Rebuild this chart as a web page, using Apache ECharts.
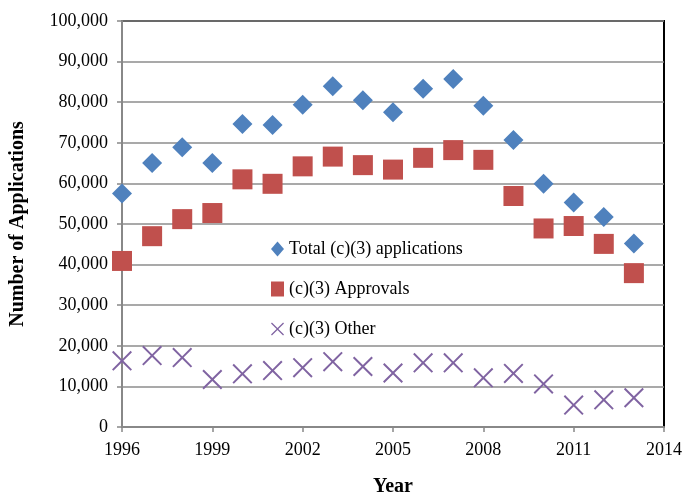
<!DOCTYPE html>
<html>
<head>
<meta charset="utf-8">
<script src="https://cdn.jsdelivr.net/npm/echarts@6/dist/echarts.min.js"></script>
<style>
  html, body { margin: 0; padding: 0; background: #fff; }
  #chart { width: 683px; height: 497px; }
</style>
</head>
<body>
<div id="chart"></div>
<script>
// years on the x axis
const years = [1996, 1997, 1998, 1999, 2000, 2001, 2002, 2003, 2004, 2005, 2006, 2007, 2008, 2009, 2010, 2011, 2012, 2013]
const totalApps = [57500, 65000, 68900, 65000, 74600, 74400, 79400, 83900, 80500, 77500, 83300, 85700, 79100, 70700, 59900, 55300, 51700, 45200]
const approvals = [40900, 47000, 51200, 52700, 61000, 59900, 64200, 66600, 64500, 63400, 66300, 68200, 65800, 56900, 48900, 49500, 45100, 37900]
const other = [16300, 17600, 17100, 11700, 13100, 13900, 14600, 16100, 14900, 13300, 15800, 15800, 12100, 13200, 10600, 5400, 6700, 7200]

const seriesNames = ['Total (c)(3) applications', '(c)(3) Approvals', '(c)(3) Other']

const font = 'Liberation Serif'
// thin X drawn as a filled polygon
const crossPath = 'path://M0,7L7,0L50,43L93,0L100,7L57,50L100,93L93,100L50,57L7,100L0,93L43,50Z'

function pairs(vals) {
  return years.map((y, i) => [y, vals[i]])
}

const chart = echarts.init(document.getElementById('chart'))

const options = {
  animation: false,
  textStyle: { fontFamily: font },
  grid: {
    left: 122,
    right: 19,
    top: 21,
    bottom: 70,
    outerBoundsMode: 'none',
    containLabel: false,
    show: true,
    borderColor: '#000',
    borderWidth: 2
  },
  legend: {
    data: seriesNames,
    orient: 'vertical',
    left: 266,
    top: 235,
    itemGap: 22,
    itemWidth: 13,
    itemHeight: 15,
    textStyle: { fontFamily: font, fontSize: 18, color: '#000' }
  },
  xAxis: {
    type: 'value',
    min: 1996,
    max: 2014,
    interval: 3,
    name: 'Year',
    nameLocation: 'middle',
    nameGap: 50,
    nameTextStyle: { fontFamily: font, fontSize: 20, fontWeight: 'bold', color: '#000' },
    axisLine: { show: true, lineStyle: { color: '#888', width: 2 } },
    axisTick: { show: true, length: 5, lineStyle: { color: '#888', width: 1.5 } },
    axisLabel: { fontFamily: font, fontSize: 18, color: '#000', margin: 14, formatter: v => String(v) },
    splitLine: { show: false }
  },
  yAxis: {
    type: 'value',
    min: 0,
    max: 100000,
    interval: 10000,
    name: 'Number of Applications',
    nameLocation: 'middle',
    nameGap: 94,
    nameTextStyle: { fontFamily: font, fontSize: 20, fontWeight: 'bold', color: '#000' },
    axisLine: { show: true, lineStyle: { color: '#888', width: 2 } },
    axisTick: { show: true, length: 5, lineStyle: { color: '#888', width: 1.5 } },
    axisLabel: {
      fontFamily: font,
      fontSize: 18,
      color: '#000',
      margin: 14,
      formatter: v => v.toLocaleString('en-US')
    },
    splitLine: { lineStyle: { color: '#8c8c8c', width: 1.5 } }
  },
  series: [
    {
      type: 'scatter',
      name: seriesNames[0],
      data: pairs(totalApps),
      symbol: 'diamond',
      symbolSize: 20,
      itemStyle: { color: '#4F81BD', opacity: 1 }
    },
    {
      type: 'scatter',
      name: seriesNames[1],
      data: pairs(approvals),
      symbol: 'rect',
      symbolSize: 20,
      itemStyle: { color: '#C0504D', opacity: 1 }
    },
    {
      type: 'scatter',
      name: seriesNames[2],
      data: pairs(other),
      symbol: crossPath,
      symbolSize: 20,
      itemStyle: { color: '#8064A2', opacity: 1 }
    }
  ]
}

chart.setOption(options)
</script>
</body>
</html>
